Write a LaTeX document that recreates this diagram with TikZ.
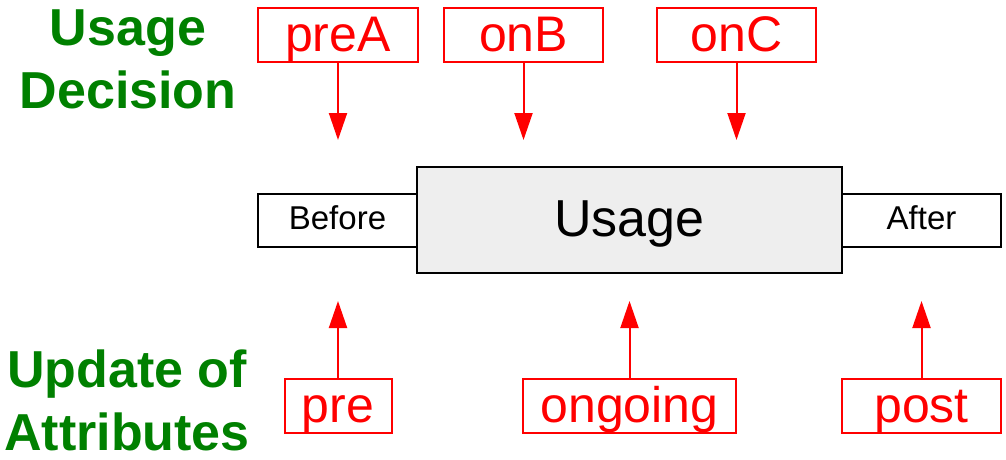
\documentclass[tikz,border=0pt]{standalone}
\usepackage{fontspec}
\setmainfont{Liberation Sans}
\usetikzlibrary{arrows.meta}
\definecolor{decgreen}{RGB}{0,128,0}
\definecolor{usagegray}{RGB}{238,238,238}
\tikzset{
	hookbox/.style={draw=red,text=red,line width=2pt,inner sep=0pt,minimum height=54pt,text height=35pt,text depth=2pt,font=\fontsize{50}{50}\selectfont},
	phasebox/.style={draw=black,line width=2pt,inner sep=0pt,minimum width=159pt,minimum height=53pt,text height=22pt,text depth=4pt,font=\fontsize{33}{33}\selectfont},
	titletext/.style={text=decgreen,align=center,inner sep=0pt,anchor=north,font=\fontsize{52}{63}\selectfont\bfseries},
	hookarrow/.style={red,line width=2pt,-{Triangle[length=27pt,width=18pt]}}
}
\begin{document}
\begin{tikzpicture}[x=1pt,y=-1pt]
		\useasboundingbox (0,0) rectangle (1006,460);
		\node[titletext] (decision) at (128,10) {Usage\\Decision};
		\node[titletext] (update) at (127,350) {Update of\\Attributes};
		\node[hookbox,minimum width=160pt] (preA) at (338,35) {preA};
		\node[hookbox,minimum width=159pt] (onB) at (523.5,35) {onB};
		\node[hookbox,minimum width=159pt] (onC) at (736.5,35) {onC};
		\node[phasebox] (before) at (337.5,220.5) {Before};
		\node[draw=black,fill=usagegray,line width=2pt,inner sep=0pt,minimum width=425pt,minimum height=106pt,text height=38pt,text depth=4.6pt,font=\fontsize{52}{52}\selectfont] (usage) at (629.5,220) {Usage};
		\node[phasebox] (after) at (921.5,220.5) {After};
		\node[hookbox,minimum width=107pt] (pre) at (338,406) {pre};
		\node[hookbox,minimum width=213pt] (ongoing) at (629.5,406) {ongoing};
		\node[hookbox,minimum width=159pt] (post) at (921.5,406) {post};
		\coordinate (tA) at (338,140);
		\coordinate (tB) at (523.5,140);
		\coordinate (tC) at (736.5,140);
		\coordinate (tpre) at (338,301);
		\coordinate (tongoing) at (629.5,301);
		\coordinate (tpost) at (921.5,301);
		\draw[hookarrow] (preA)--(tA);
		\draw[hookarrow] (onB)--(tB);
		\draw[hookarrow] (onC)--(tC);
		\draw[hookarrow] (pre)--(tpre);
		\draw[hookarrow] (ongoing)--(tongoing);
		\draw[hookarrow] (post)--(tpost);
	\end{tikzpicture}
\end{document}
